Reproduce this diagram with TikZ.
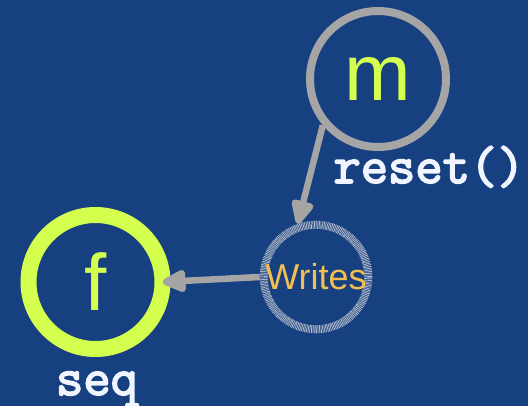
\documentclass[tikz,border=0pt]{standalone}
\usepackage{fontspec}
\setmainfont{Liberation Sans}
\newfontfamily\codefont{Latin Modern Mono}[FakeBold=3.2]
\usetikzlibrary{arrows.meta}

\definecolor{bgblue}{RGB}{23,64,128}
\definecolor{lime}{RGB}{213,255,78}
\definecolor{ringgray}{RGB}{165,165,165}
\definecolor{hatchgray}{RGB}{175,185,200}
\definecolor{amber}{RGB}{244,190,80}
\definecolor{labelwhite}{RGB}{240,245,255}

\tikzset{
  bigletter/.style={text=lime, font=\fontsize{80}{96}\selectfont},
  objring/.style={circle, draw=ringgray, line width=8pt, inner sep=0pt, minimum size=136pt},
  seqring/.style={circle, draw=lime, line width=16pt, inner sep=0pt, outer sep=0pt, minimum size=134pt},
  writering/.style={circle, draw=hatchgray, line width=8pt, dash pattern=on 0.8pt off 0.8pt,
    inner sep=0pt, minimum size=104pt, text=amber, font=\fontsize{36}{43}\selectfont},
  codelabel/.style={text=labelwhite, font=\fontsize{53}{60}\codefont},
  flow/.style={draw=ringgray, line width=6.5pt,
    -{Triangle[length=28pt,width=24pt,round]}, line join=round}
}

\begin{document}
\begin{tikzpicture}[x=1pt,y=-1pt]
  \fill[bgblue] (0,0) rectangle (528,406);
  \useasboundingbox (0,0) rectangle (528,406);

  \node[objring, bigletter] (m) at (378,79) {m};
  \node[seqring, bigletter] (f) at (95.5,282) {f};
  \node[writering] (wr) at (316,277) {Writes};

  \node[codelabel, anchor=base] (reset) at (429,183) {reset()};
  \node[codelabel, anchor=base] (seq) at (97,395) {seq};

  \draw[flow] (m.220) -- (wr.109);
  \draw[flow] (wr.180) -- (f.east);
\end{tikzpicture}
\end{document}
